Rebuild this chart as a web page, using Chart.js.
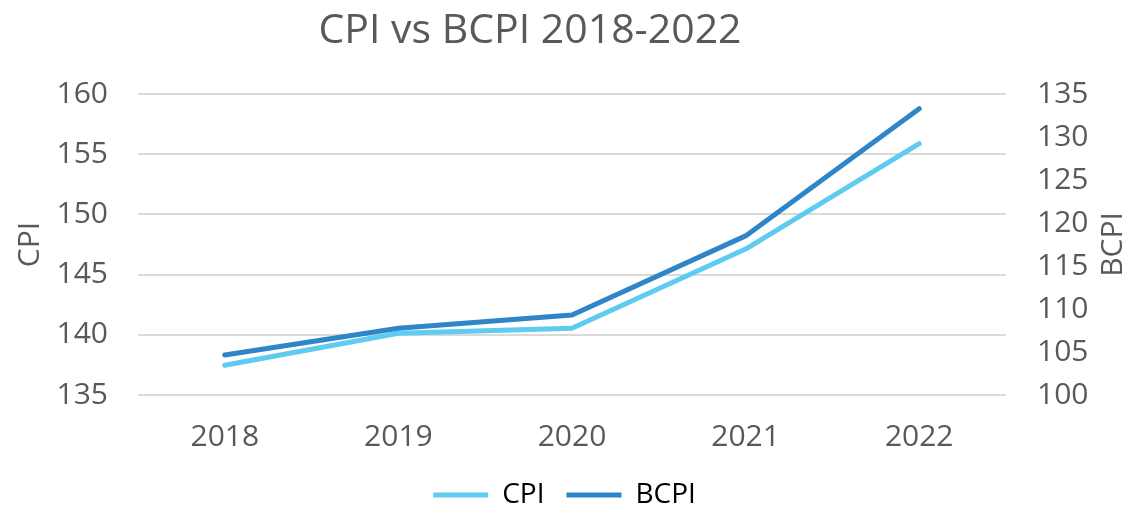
<!DOCTYPE html>
<html>
<head>
<meta charset="utf-8">
<title>CPI vs BCPI 2018-2022</title>
<script src="https://cdn.jsdelivr.net/npm/chart.js@4"></script>
<style>
  html, body { margin: 0; padding: 0; background: #fff; }
  #wrap { width: 1129px; height: 510px; }
</style>
</head>
<body>
<div id="wrap"><canvas id="chart"></canvas></div>
<script>
const years = ["2018", "2019", "2020", "2021", "2022"];
const cpiValues = [137.47, 140.13, 140.55, 147.12, 155.87];
const bcpiValues = [104.65, 107.76, 109.31, 118.5, 133.29];
const cpiRange = [135, 160];
const bcpiRange = [100, 135];
const tickStep = 5;
const chartTitle = "CPI vs BCPI 2018-2022";

const grey = "#595959";
const cpiColor = "#5ecbf0";
const bcpiColor = "#2e86c8";

Chart.defaults.font.family = "'Open Sans', sans-serif";
Chart.defaults.color = grey;

// title sits a bit left of centre in the original, and the right axis
// title reads bottom-to-top, so both are drawn here
const extraText = {
  id: "extraText",
  afterDraw(chart) {
    const ctx = chart.ctx;
    const s = chart.scales.y1;
    ctx.save();
    ctx.fillStyle = grey;
    ctx.textAlign = "center";
    ctx.textBaseline = "middle";
    ctx.font = "41px 'Open Sans', sans-serif";
    ctx.fillText(chartTitle, 530, 31);
    ctx.translate(s.right - 16, (s.top + s.bottom) / 2);
    ctx.rotate(-Math.PI / 2);
    ctx.font = "30px 'Open Sans', sans-serif";
    ctx.fillText("BCPI", 0, 0);
    ctx.restore();
  },
};

const lineStyle = { borderWidth: 5, tension: 0, pointRadius: 0, borderCapStyle: "round", borderJoinStyle: "round" };

new Chart(document.getElementById("chart"), {
  type: "line",
  data: {
    labels: years,
    datasets: [
      { label: "CPI", data: cpiValues, borderColor: cpiColor, backgroundColor: cpiColor, yAxisID: "y", order: 1, ...lineStyle },
      { label: "BCPI", data: bcpiValues, borderColor: bcpiColor, backgroundColor: bcpiColor, yAxisID: "y1", order: 0, ...lineStyle },
    ],
  },
  options: {
    responsive: true,
    maintainAspectRatio: false,
    animation: false,
    layout: { padding: { top: 94, bottom: -9, left: 0, right: 0 } },
    plugins: {
      tooltip: { enabled: false },
      title: { display: false },
      legend: {
        position: "bottom",
        labels: {
          font: { size: 28 },
          color: grey,
          boxWidth: 55,
          boxHeight: 5,
          padding: 22,
          generateLabels: (chart) => chart.data.datasets.map((ds, i) => ({
            text: ds.label,
            fillStyle: ds.borderColor,
            strokeStyle: ds.borderColor,
            lineWidth: 0,
            datasetIndex: i,
            hidden: false,
          })),
        },
      },
    },
    scales: {
      x: {
        offset: true,
        grid: { display: false },
        border: { display: false },
        ticks: { font: { size: 30 }, color: grey, padding: 16 },
        afterFit: (s) => { s.height = 64; },
      },
      y: {
        position: "left",
        min: cpiRange[0],
        max: cpiRange[1],
        ticks: { stepSize: tickStep, font: { size: 30 }, color: grey, padding: 30 },
        grid: { color: "#dadada", lineWidth: 2, drawTicks: false },
        border: { display: false },
        title: { display: true, text: "CPI", color: grey, font: { size: 30 }, padding: { top: 12 } },
        afterFit: (s) => { s.width = 138; },
      },
      y1: {
        position: "right",
        min: bcpiRange[0],
        max: bcpiRange[1],
        ticks: { stepSize: tickStep, font: { size: 30 }, color: grey, padding: 31 },
        grid: { drawOnChartArea: false, drawTicks: false },
        border: { display: false },
        afterFit: (s) => { s.width = 123; },
      },
    },
  },
  plugins: [extraText],
});
</script>
</body>
</html>
